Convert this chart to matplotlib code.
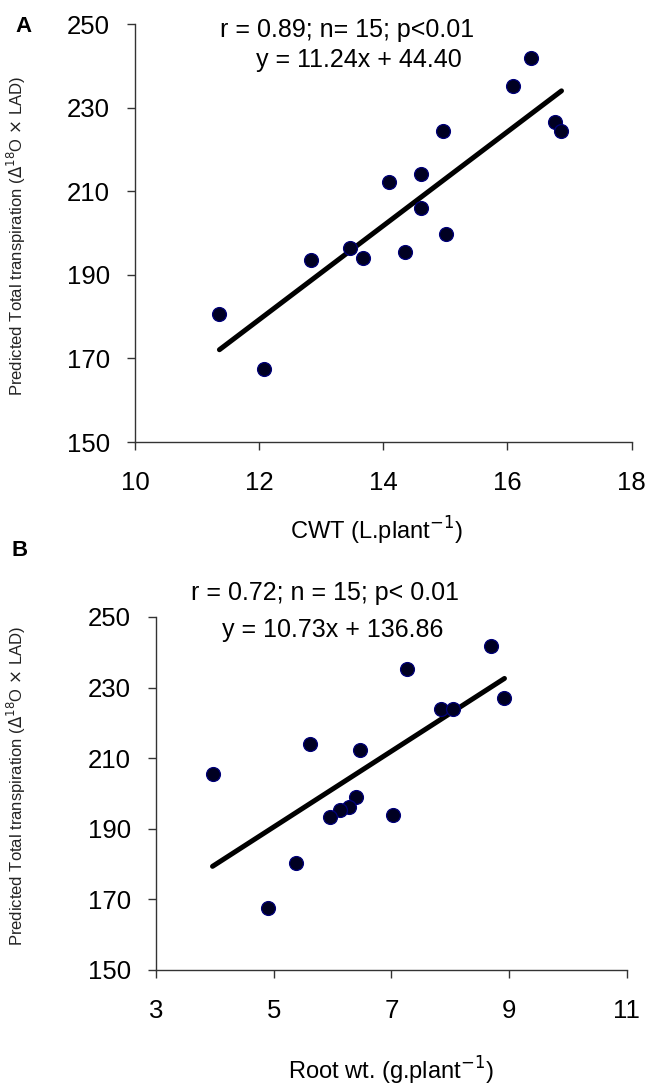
import numpy as np
import matplotlib.pyplot as plt

plt.rcParams["font.family"] = ["Liberation Sans", "DejaVu Sans"]

# predicted total transpiration (same genotypes in both panels)
transp = [241.9, 235.2, 226.6, 224.4, 224.4, 214.1, 212.2, 206.0,
          199.8, 196.4, 194.0, 195.5, 193.5, 180.6, 167.5]
# panel A: cumulative water transpired
cwt = [16.38, 16.09, 16.77, 16.87, 14.96, 14.60, 14.09, 14.60,
       15.01, 13.47, 13.68, 14.35, 12.83, 11.36, 12.07]
# panel B: root weight, paired with the transpiration values below
root_wt = [8.69, 7.27, 8.92, 7.85, 8.05, 5.62, 6.47, 3.96,
           6.40, 6.28, 6.12, 5.95, 7.02, 5.37, 4.91]
transp_b = [241.9, 235.3, 226.9, 224.0, 224.0, 213.9, 212.3, 205.6,
            199.0, 196.2, 195.4, 193.3, 193.8, 180.4, 167.5]

fit_a = (11.24, 44.40)
fit_b = (10.73, 136.86)

ylab = "Predicted Total transpiration ($\\Delta^{18}$O $\\times$ LAD)"

fig = plt.figure(figsize=(6.45, 10.89), dpi=100)
ax1 = fig.add_axes([0.2093, 0.5941, 0.770, 0.3838])
ax2 = fig.add_axes([0.2419, 0.1093, 0.730, 0.3242])


def style(ax):
    for s in ["top", "right"]:
        ax.spines[s].set_visible(False)
    for s in ["left", "bottom"]:
        ax.spines[s].set_linewidth(1.0)
        ax.spines[s].set_color("#333333")
    ax.tick_params(axis="both", direction="out", length=6, width=1.0,
                   labelsize=18.5, color="#333333")
    ax.tick_params(axis="x", pad=15)
    ax.tick_params(axis="y", pad=12)
    ax.set_ylim(150, 250)
    ax.set_yticks(np.arange(150, 251, 20))


def scatter_fit(ax, x, y, fit):
    xs = np.array([min(x), max(x)])
    ax.plot(xs, fit[0] * xs + fit[1], color="black", lw=3.6,
            solid_capstyle="round", zorder=2)
    ax.plot(x, y, "o", ms=10, mfc="#000022", mec="#00007a", mew=0.9,
            ls="none", zorder=3)


style(ax1)
ax1.set_xlim(10, 18)
ax1.set_xticks(np.arange(10, 19, 2))
scatter_fit(ax1, cwt, transp, fit_a)
ax1.text(13.42, 248.6, "r = 0.89; n= 15; p<0.01", ha="center", va="center",
         fontsize=18, clip_on=False)
ax1.text(13.6, 241.4, "y = 11.24x + 44.40", ha="center", va="center",
         fontsize=18)

style(ax2)
ax2.set_xlim(3, 11)
ax2.set_xticks(np.arange(3, 12, 2))
scatter_fit(ax2, root_wt, transp_b, fit_b)
ax2.text(5.87, 256.8, "r = 0.72; n = 15; p< 0.01", ha="center", va="center",
         fontsize=18, clip_on=False)
ax2.text(6.0, 246.3, "y = 10.73x + 136.86", ha="center", va="center",
         fontsize=18)

fig.text(376 / 645, 1 - 531 / 1089, "CWT (L.plant$^{-1}$)", ha="center",
         va="center", fontsize=17)
fig.text(391 / 645, 1 - 1071 / 1089, "Root wt. (g.plant$^{-1}$)", ha="center",
         va="center", fontsize=17)
fig.text(16 / 645, 1 - 236 / 1089, ylab, rotation=90, ha="center",
         va="center", fontsize=12, color="#222222")
fig.text(16 / 645, 1 - 786 / 1089, ylab, rotation=90, ha="center",
         va="center", fontsize=12, color="#222222")
fig.text(24 / 645, 1 - 26 / 1089, "A", ha="center", va="center",
         fontsize=16, fontweight="bold")
fig.text(20 / 645, 1 - 550 / 1089, "B", ha="center", va="center",
         fontsize=16, fontweight="bold")

plt.savefig("out.png", dpi=100)
